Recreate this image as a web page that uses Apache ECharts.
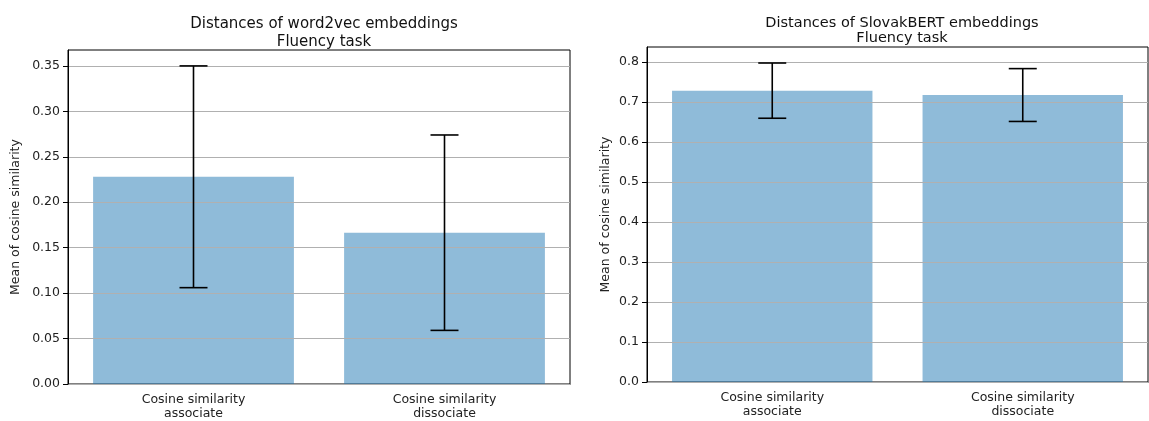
<!DOCTYPE html>
<html>
<head>
    <meta charset="utf-8" />
    <title></title>
    <style>body{margin:0;background:#fff}</style>
</head>
<body>
<div id="main" style="width:1149px;height:421px"></div>
<script src="https://cdn.jsdelivr.net/npm/echarts@6/dist/echarts.min.js"></script>
<script type="text/javascript">
    var categories = ['Cosine similarity\nassociate', 'Cosine similarity\ndissociate'];
    // word2vec
    var w2vMean = [0.228, 0.1665];
    var w2vErr = [0.122, 0.1075];
    var w2vTicks = [0, 0.05, 0.10, 0.15, 0.20, 0.25, 0.30, 0.35];
    // SlovakBERT
    var bertMean = [0.728, 0.717];
    var bertErr = [0.069, 0.066];
    var bertTicks = [0, 0.1, 0.2, 0.3, 0.4, 0.5, 0.6, 0.7, 0.8];

    var font = 'DejaVu Sans';
    var barColor = 'rgba(31,119,180,0.5)';

    function errData(mean, err) {
        return mean.map(function (m, i) { return [i, m - err[i], m + err[i]]; });
    }

    function renderErr(params, api) {
        var lo = api.coord([api.value(0), api.value(1)]);
        var hi = api.coord([api.value(0), api.value(2)]);
        var cap = 14;
        var st = { stroke: '#000', lineWidth: 1.6 };
        return {
            type: 'group',
            children: [
                { type: 'line', shape: { x1: lo[0], y1: lo[1], x2: hi[0], y2: hi[1] }, style: st },
                { type: 'line', shape: { x1: lo[0] - cap, y1: lo[1], x2: lo[0] + cap, y2: lo[1] }, style: st },
                { type: 'line', shape: { x1: hi[0] - cap, y1: hi[1], x2: hi[0] + cap, y2: hi[1] }, style: st }
            ]
        };
    }

    function xAx(idx) {
        return {
            type: 'category', gridIndex: idx, data: categories,
            axisLine: { lineStyle: { color: '#000', width: 1 } },
            axisTick: { alignWithLabel: true, length: 5, lineStyle: { color: '#000' } },
            axisLabel: { color: '#222', fontFamily: font, fontSize: 12.5, lineHeight: 14.5, margin: 8 }
        };
    }

    function yAx(idx, max, ticks, digits, gap) {
        return {
            type: 'value', gridIndex: idx, min: 0, max: max, z: 3,
            name: 'Mean of cosine similarity', nameLocation: 'middle', nameGap: gap,
            nameTextStyle: { color: '#222', fontFamily: font, fontSize: 12.5 },
            axisLine: { show: true, lineStyle: { color: '#000', width: 1 } },
            axisTick: { show: true, length: 5, customValues: ticks, lineStyle: { color: '#000' } },
            axisLabel: {
                color: '#222', fontFamily: font, fontSize: 12.5, customValues: ticks,
                formatter: function (v) { return v.toFixed(digits); }
            },
            interval: ticks[1],
            splitLine: { show: true, lineStyle: { color: '#b0b0b0', width: 1 } }
        };
    }

    var myChart = echarts.init(document.getElementById('main'));
    var option = {
        backgroundColor: '#fff',
        animation: false,
        title: [
            { text: 'Distances of word2vec embeddings\nFluency task', left: 319, top: 10, textAlign: 'center',
              textStyle: { fontFamily: font, fontSize: 15, fontWeight: 'normal', color: '#111', lineHeight: 18 } },
            { text: 'Distances of SlovakBERT embeddings\nFluency task', left: 897, top: 11, textAlign: 'center',
              textStyle: { fontFamily: font, fontSize: 14.5, fontWeight: 'normal', color: '#111', lineHeight: 15 } }
        ],
        grid: [
            { left: 68, right: 579, top: 50, bottom: 36, show: true, borderColor: '#000', borderWidth: 1 },
            { left: 647, right: 1, top: 47, bottom: 39, show: true, borderColor: '#000', borderWidth: 1 }
        ],
        xAxis: [xAx(0), xAx(1)],
        yAxis: [yAx(0, 0.3675, w2vTicks, 2, 46), yAx(1, 0.837, bertTicks, 1, 35)],
        series: [
            { type: 'bar', xAxisIndex: 0, yAxisIndex: 0, data: w2vMean, barWidth: '80%',
              itemStyle: { color: barColor } },
            { type: 'custom', xAxisIndex: 0, yAxisIndex: 0, data: errData(w2vMean, w2vErr),
              encode: { x: 0, y: [1, 2] }, renderItem: renderErr, z: 5 },
            { type: 'bar', xAxisIndex: 1, yAxisIndex: 1, data: bertMean, barWidth: '80%',
              itemStyle: { color: barColor } },
            { type: 'custom', xAxisIndex: 1, yAxisIndex: 1, data: errData(bertMean, bertErr),
              encode: { x: 0, y: [1, 2] }, renderItem: renderErr, z: 5 }
        ]
    };
    myChart.setOption(option);
</script>
</body>
</html>
